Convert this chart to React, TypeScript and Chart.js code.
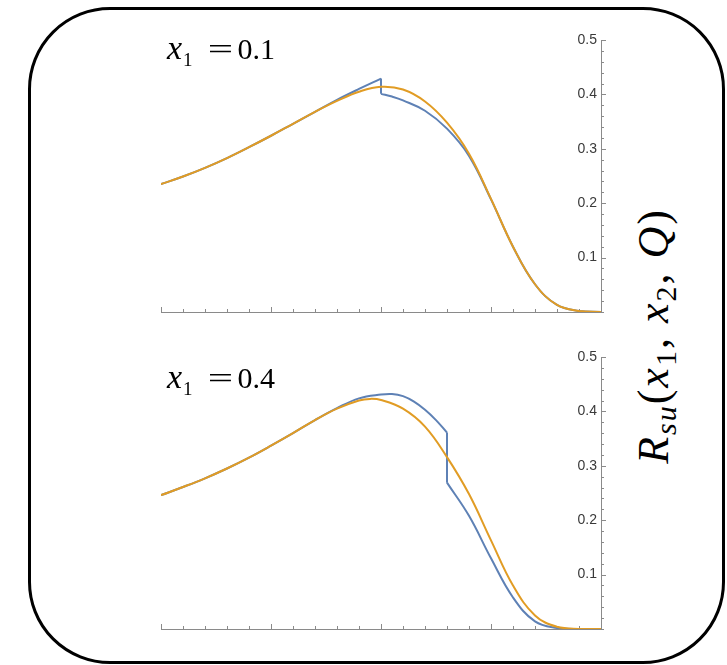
import React, { useEffect, useRef } from "react";
import { Chart, registerables } from "chart.js";
Chart.register(...registerables);

// ---------- data ----------
const gridX = [0, 0.05, 0.1, 0.15, 0.2, 0.25, 0.3, 0.35, 0.4, 0.45, 0.5, 0.55, 0.6, 0.65, 0.7, 0.75, 0.8, 0.85, 0.9, 0.95, 1];

// panel x1 = 0.1
const topOrangeX = gridX;
const topOrange = [0.235, 0.249, 0.265, 0.283, 0.303, 0.324, 0.346, 0.368, 0.388, 0.405, 0.414, 0.409, 0.387, 0.348, 0.291, 0.208, 0.12, 0.051, 0.013, 0.002, 0];
const topBlueLeftX = [0, 0.05, 0.1, 0.15, 0.2, 0.25, 0.3, 0.35, 0.4, 0.45, 0.5];
const topBlueLeft = [0.235, 0.249, 0.265, 0.283, 0.303, 0.324, 0.346, 0.368, 0.39, 0.41, 0.429];
const topBlueRightX = [0.5, 0.525, 0.55, 0.6, 0.65, 0.7, 0.75, 0.8, 0.85, 0.9, 0.95, 1];
const topBlueRight = [0.401, 0.396, 0.389, 0.37, 0.337, 0.287, 0.207, 0.12, 0.051, 0.013, 0.002, 0];

// panel x1 = 0.4
const botOrangeX = [0, 0.05, 0.1, 0.15, 0.2, 0.25, 0.3, 0.35, 0.4, 0.45, 0.475, 0.5, 0.55, 0.6, 0.65, 0.7, 0.75, 0.8, 0.85, 0.9, 0.95, 1];
const botOrange = [0.246, 0.261, 0.277, 0.295, 0.315, 0.337, 0.36, 0.384, 0.405, 0.42, 0.423, 0.421, 0.405, 0.372, 0.316, 0.248, 0.163, 0.08, 0.025, 0.004, 0, 0];
const botBlueLeftX = [0, 0.05, 0.1, 0.15, 0.2, 0.25, 0.3, 0.35, 0.4, 0.45, 0.5, 0.525, 0.55, 0.575, 0.6, 0.625, 0.65];
const botBlueLeft = [0.246, 0.261, 0.277, 0.295, 0.315, 0.337, 0.36, 0.384, 0.406, 0.424, 0.431, 0.432, 0.428, 0.418, 0.403, 0.384, 0.361];
const botBlueRightX = [0.65, 0.7, 0.75, 0.8, 0.85, 0.9, 0.95, 1];
const botBlueRight = [0.269, 0.208, 0.13, 0.058, 0.014, 0.002, 0, 0];

const xTickValues = [0, 0.05, 0.1, 0.15, 0.2, 0.25, 0.3, 0.35, 0.4, 0.45, 0.5, 0.55, 0.6, 0.65, 0.7, 0.75, 0.8, 0.85, 0.9, 0.95, 1];
const xMajorTicks = [0, 0.25, 0.5, 0.75, 1];
const yTickValues = [0, 0.02, 0.04, 0.06, 0.08, 0.1, 0.12, 0.14, 0.16, 0.18, 0.2, 0.22, 0.24, 0.26, 0.28, 0.3, 0.32, 0.34, 0.36, 0.38, 0.4, 0.42, 0.44, 0.46, 0.48, 0.5];
const yMajorTicks = [0.1, 0.2, 0.3, 0.4, 0.5];

const BLUE = "#5E81B5";
const ORANGE = "#E19C24";
const AXIS = "#8a8a8a";

const pts = (xs: number[], ys: number[]) => xs.map((x, i) => ({ x, y: ys[i] }));

const tickPlugin = {
  id: "mmaTicks",
  beforeDatasetsDraw(chart: any) {
    const { ctx, chartArea } = chart;
    const xs = chart.scales.x;
    const ys = chart.scales.y;
    ctx.save();
    ctx.strokeStyle = AXIS;
    ctx.lineWidth = 1;
    ctx.beginPath();
    xTickValues.forEach((v) => {
      const major = xMajorTicks.some((m) => Math.abs(m - v) < 1e-9);
      const px = Math.round(xs.getPixelForValue(v)) + 0.5;
      ctx.moveTo(px, chartArea.bottom);
      ctx.lineTo(px, chartArea.bottom - (major ? 5 : 3));
    });
    yTickValues.forEach((v) => {
      const major = yMajorTicks.some((m) => Math.abs(m - v) < 1e-9);
      const py = Math.round(ys.getPixelForValue(v)) + 0.5;
      ctx.moveTo(chartArea.right, py);
      ctx.lineTo(chartArea.right + (major ? 5 : 3), py);
    });
    ctx.stroke();
    ctx.restore();
  },
};

function Panel({ orange, blueL, blueR, style }: any) {
  const ref = useRef<HTMLCanvasElement>(null);
  useEffect(() => {
    const line = (data: any, color: string, order: number) => ({
      data,
      borderColor: color,
      borderWidth: 2,
      pointRadius: 0,
      fill: false,
      tension: 0.4,
      order,
    });
    const jump = [blueL[blueL.length - 1], blueR[0]];
    const chart = new Chart(ref.current!, {
      type: "line",
      data: {
        datasets: [
          line(orange, ORANGE, 0),
          line(blueL, BLUE, 1),
          { ...line(jump, BLUE, 1), tension: 0 },
          line(blueR, BLUE, 1),
        ],
      },
      options: {
        animation: false,
        responsive: false,
        maintainAspectRatio: false,
        layout: { padding: { left: 11, right: 19, top: 20, bottom: 13 } },
        plugins: { legend: { display: false }, tooltip: { enabled: false } },
        scales: {
          x: {
            type: "linear",
            min: 0,
            max: 1,
            ticks: { display: false },
            grid: { display: true, drawOnChartArea: false, drawTicks: false },
            border: { display: true, color: AXIS, width: 1 },
            afterFit: (s: any) => { s.height = 0; },
          },
          y: {
            type: "linear",
            position: "right",
            min: 0,
            max: 0.5,
            ticks: {
              stepSize: 0.1,
              mirror: true,
              padding: -4,
              color: "#3a3a3a",
              font: { family: "'Liberation Sans', Arial, sans-serif", size: 14 },
              callback: (v: any) => (Number(v) === 0 ? "" : Number(v).toFixed(1)),
            },
            grid: { display: true, drawOnChartArea: false, drawTicks: false },
            border: { display: true, color: AXIS, width: 1 },
            afterFit: (s: any) => { s.width = 0; },
          },
        },
      },
      plugins: [tickPlugin],
    });
    return () => chart.destroy();
  }, []);
  return <canvas ref={ref} width={470} height={305} style={{ position: "absolute", width: 470, height: 305, ...style }} />;
}

const serif = "'Liberation Serif', 'Times New Roman', serif";

function Label({ value, top }: { value: string; top: number }) {
  return (
    <div style={{ position: "absolute", left: 167, top, fontFamily: serif, fontSize: 30, lineHeight: "34px", whiteSpace: "nowrap", color: "#000" }}>
      <i style={{ fontSize: 34 }}>x</i>
      <span style={{ fontSize: 19, position: "relative", top: 7, marginLeft: 1 }}>1</span>
      <span style={{ display: "inline-block", margin: "0 9px 0 19px", transform: "scaleX(1.5)" }}>=</span>
      <span>{value}</span>
    </div>
  );
}

export default function App() {
  return (
    <div style={{ position: "fixed", left: 0, top: 0, width: 727, height: 665, background: "#fff", overflow: "hidden" }}>
      <div style={{ position: "absolute", left: 28, top: 7, width: 697, height: 657, boxSizing: "border-box", border: "3.5px solid #000", borderRadius: 82 }} />
      <Panel orange={pts(topOrangeX, topOrange)} blueL={pts(topBlueLeftX, topBlueLeft)} blueR={pts(topBlueRightX, topBlueRight)} style={{ left: 150, top: 20 }} />
      <Panel orange={pts(botOrangeX, botOrange)} blueL={pts(botBlueLeftX, botBlueLeft)} blueR={pts(botBlueRightX, botBlueRight)} style={{ left: 150, top: 337 }} />
      <Label value="0.1" top={31} />
      <Label value="0.4" top={360} />
      <div
        style={{
          position: "absolute",
          left: 660,
          top: 336,
          transform: "translate(-50%, -50%) rotate(-90deg)",
          fontFamily: serif,
          fontSize: 44,
          lineHeight: "50px",
          whiteSpace: "nowrap",
          letterSpacing: 2,
          color: "#000",
        }}
      >
        <i>R</i>
        <sub style={{ fontSize: 30, verticalAlign: "-8px" }}><i>su</i></sub>
        <span>(</span>
        <i>x</i>
        <sub style={{ fontSize: 30, verticalAlign: "-8px" }}>1</sub>
        <span>, </span>
        <i>x</i>
        <sub style={{ fontSize: 30, verticalAlign: "-8px" }}>2</sub>
        <span>, </span>
        <i>Q</i>
        <span>)</span>
      </div>
    </div>
  );
}
